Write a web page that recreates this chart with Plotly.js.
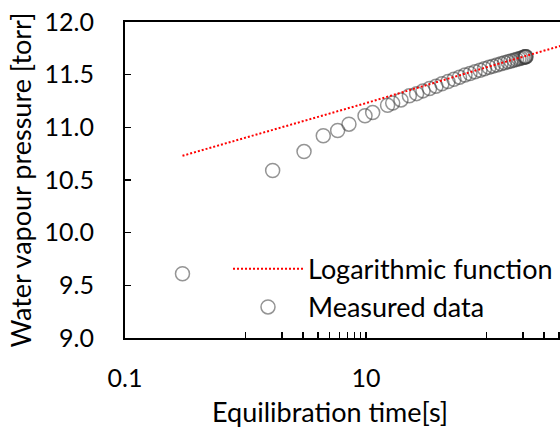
<!DOCTYPE html>
<html>
<head>
<meta charset="utf-8">
<script src="https://cdn.plot.ly/plotly-3.0.1.min.js"></script>
<style>
html, body { margin: 0; padding: 0; overflow: hidden; background: #fff; }
#chart { width: 640px; height: 433px; }
</style>
</head>
<body>
<div id="chart"></div>
<script>
const measuredTime = [0.30, 1.68, 3.06, 4.42, 5.82, 7.22, 9.81, 11.36, 15.1, 16.66, 19.5, 22.9, 26.3,
  29.7, 33.7, 38.1, 42.7, 47.9, 53.7, 59.7, 66.3, 72.9, 80.3, 88.3, 96.2, 104.9, 113.2, 122.2,
  131.9, 141.1, 150.8, 159.7, 169.1, 177.4, 186.1, 193.4, 200.9, 206.8, 209.5, 211.5, 212.7];
const measuredPressure = [9.61, 10.59, 10.77, 10.92, 10.97, 11.03, 11.11, 11.14, 11.21, 11.23, 11.26, 11.30, 11.32,
  11.346, 11.368, 11.391, 11.413, 11.434, 11.456, 11.476, 11.496, 11.510, 11.528, 11.542, 11.556, 11.570, 11.581, 11.592,
  11.603, 11.613, 11.622, 11.630, 11.638, 11.645, 11.652, 11.657, 11.663, 11.667, 11.669, 11.670, 11.671];

// Logarithmic fit
const fitTime = [0.30, 1, 10, 100, 1000];
const fitPressure = [10.73, 10.90, 11.23, 11.57, 11.90];

// Axis ticks
const yTicks = [9.0, 9.5, 10.0, 10.5, 11.0, 11.5, 12.0];
const xMajorTicks = [0.1, 1, 10, 100, 1000];
const xMajorLabels = ['0.1', '', '10', '', ''];
const xMinorTicks = [2, 3, 4, 5, 6, 7, 8, 9, 200, 300, 400, 500, 600, 700, 800, 900];

const font = 'Lato, "Open Sans", sans-serif';
const xTitle = 'Equilibration time[s]';
const yTitle = 'Water vapour pressure [torr]';

const traces = [
  {
    x: measuredTime, y: measuredPressure,
    type: 'scatter', mode: 'markers', name: 'Measured data',
    marker: { symbol: 'circle', size: 14, color: 'rgba(0,0,0,0)',
              line: { color: 'rgba(60,60,60,0.55)', width: 1.5 } }
  },
  {
    x: fitTime, y: fitPressure,
    type: 'scatter', mode: 'lines', name: 'Logarithmic function',
    line: { color: '#ff0000', width: 2, dash: '2px,2px' }
  }
];

const layout = {
  width: 640, height: 433,
  margin: { l: 125, r: 33, t: 22, b: 95 },
  paper_bgcolor: '#ffffff', plot_bgcolor: '#ffffff',
  font: { family: font, size: 25, color: '#000' },
  showlegend: true,
  legend: {
    x: 0.2137, y: 0.295, xanchor: 'left', yanchor: 'top',
    traceorder: 'reversed', bgcolor: 'rgba(0,0,0,0)',
    font: { family: font, size: 27, color: '#000' },
    itemwidth: 70, tracegroupgap: 0
  },
  annotations: [{
    text: xTitle, xref: 'paper', yref: 'paper', x: 0.425, y: -0.234,
    xanchor: 'center', yanchor: 'middle', showarrow: false,
    font: { family: font, size: 27, color: '#000' }
  }],
  xaxis: {
    type: 'log', range: [-1, 3],
    tickmode: 'array', tickvals: xMajorTicks, ticktext: xMajorLabels,
    ticks: 'inside', ticklen: 6, tickwidth: 1.5, tickcolor: '#000',
    minor: { tickmode: 'array', tickvals: xMinorTicks, ticks: 'inside', ticklen: 6, tickwidth: 1.5, tickcolor: '#000' },
    showline: true, linecolor: '#000', linewidth: 2, mirror: true,
    showgrid: false, zeroline: false,
    ticklabelstandoff: 17,
    tickfont: { family: font, size: 25, color: '#000' }
  },
  yaxis: {
    range: [9, 12],
    tickmode: 'array', tickvals: yTicks, tickformat: '.1f',
    ticks: 'inside', ticklen: 6, tickwidth: 1.5, tickcolor: '#000',
    showline: true, linecolor: '#000', linewidth: 2, mirror: true,
    showgrid: false, zeroline: false,
    ticklabelstandoff: 24,
    tickfont: { family: font, size: 25, color: '#000' },
    title: { text: yTitle, font: { family: font, size: 27, color: '#000' }, standoff: 5 }
  }
};

Plotly.newPlot('chart', traces, layout, { displayModeBar: false, staticPlot: true });
</script>
</body>
</html>
